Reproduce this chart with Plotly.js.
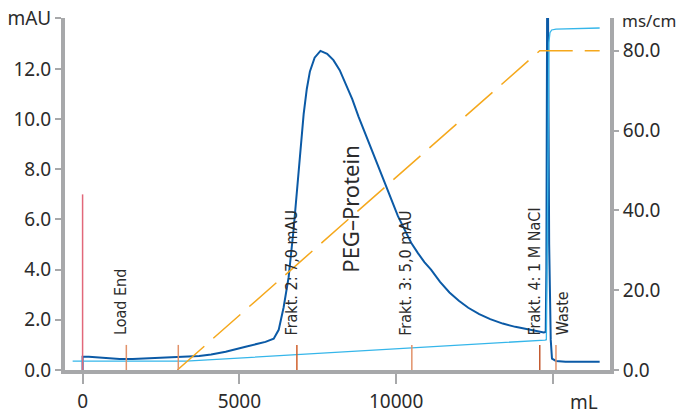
<!DOCTYPE html>
<html>
<head>
<meta charset="utf-8">
<script src="https://cdn.plot.ly/plotly-3.0.1.min.js"></script>
<style>html,body{margin:0;padding:0;background:#fff;}#chart{width:681px;height:414px;}</style>
</head>
<body>
<div id="chart"></div>
<script>
// UV absorbance (mL, mAU)
const uvVolume = [0, 0, 200, 500, 800, 1182, 1600, 2000, 2500, 2979, 3718, 4100, 4564, 5198, 5832, 6095, 6254, 6412, 6571, 6729, 6834, 6941, 7050, 7150, 7250, 7400, 7585, 7800, 8000, 8200, 8400, 8600, 8800, 9000, 9211, 9635, 10057, 10478, 10700, 10900, 11112, 11400, 11700, 12000, 12300, 12650, 13000, 13400, 13800, 14200, 14500, 14707, 14770, 14790, 14815, 14843, 14880, 14930, 14970, 15100, 15400, 16000, 16490];
const uvMAU    = [0, 0.53, 0.53, 0.5, 0.47, 0.44, 0.44, 0.46, 0.5, 0.53, 0.56, 0.62, 0.73, 0.93, 1.12, 1.25, 1.6, 2.5, 3.7, 5.6, 7.2, 8.8, 10.2, 11.2, 11.9, 12.45, 12.72, 12.6, 12.35, 11.95, 11.4, 10.8, 10.1, 9.45, 8.8, 7.47, 6.13, 5.07, 4.65, 4.3, 4.0, 3.51, 3.09, 2.76, 2.48, 2.23, 2.03, 1.85, 1.72, 1.62, 1.56, 1.5, 1.52, 4.0, 14.5, 14.5, 5.0, 1.2, 0.45, 0.36, 0.33, 0.32, 0.33];

// Conductivity (mL, ms/cm)
const condVolume = [-317, 3296, 14748, 14790, 14820, 14845, 14870, 14905, 14960, 15100, 16000, 16490];
const condMScm   = [2.2, 2.2, 7.5, 7.6, 30, 70, 82, 84.5, 85.2, 85.4, 85.6, 85.7];

// Gradient (mL, ms/cm scale)
const gradVolume = [3020, 14580, 16490];
const gradValue  = [0, 80, 80];

// Fraction / event marks
const markVolume = [1395, 3052, 6834, 10500, 14580, 15097];
const markHeight = [1.0, 1.0, 1.0, 1.0, 1.0, 1.0];
const markColors = ['#e2926a', '#e2926a', '#d0602c', '#e2926a', '#c45a30', '#e2926a'];
const injectVolume = 0;
const injectHeight = 7.0;

// Labels
const labelText   = ['Load End', 'Frakt. 2: 7,0 mAU', 'Frakt. 3: 5,0 mAU', 'Frakt. 4: 1 M NaCl', 'Waste'];
const labelVolume = [1214, 6666, 10310, 14400, 15287];
const peakLabel = 'PEG–Protein';
const peakVolume = 8536;
const peakMAU = 6.4;

const leftTicks = [0, 2, 4, 6, 8, 10, 12, 14.03];
const leftTickText = ['0.0', '2.0', '4.0', '6.0', '8.0', '10.0', '12.0', 'mAU'];
const rightTicks = [0, 20, 40, 60, 80];
const rightTickText = ['0.0', '20.0', '40.0', '60.0', '80.0'];
const xTicks = [0, 5000, 10000, 15000];
const xTickText = ['0', '5000', '10000', ''];

const axisGray = '#a7a8aa';
const textCol = '#2b2b2b';
const tickFont = {family: 'Noto Sans, sans-serif', size: 19, color: textCol};

// plot area in pixels: x 65..610, y 18..370
const pw = 545, ph = 352;

const traces = [
  {x: condVolume, y: condMScm, yaxis: 'y2', type: 'scatter', mode: 'lines',
   line: {color: '#35b6ea', width: 1.3}, hoverinfo: 'skip'},
  {x: gradVolume, y: gradValue, yaxis: 'y2', type: 'scatter', mode: 'lines',
   line: {color: '#f5a81c', width: 1.5, dash: '36px,12px'}, hoverinfo: 'skip'},
  {x: uvVolume, y: uvMAU, type: 'scatter', mode: 'lines',
   line: {color: '#0b5aa6', width: 2}, hoverinfo: 'skip'}
];

const shapes = markVolume.map((v, i) => ({
  type: 'line', xref: 'x', yref: 'y', x0: v, x1: v, y0: 0, y1: markHeight[i],
  line: {color: markColors[i], width: 1.5}
}));
shapes.push({type: 'line', xref: 'x', yref: 'y', x0: injectVolume, x1: injectVolume, y0: 0, y1: injectHeight,
  line: {color: '#e2687a', width: 1.5}});

const annotations = labelText.map((t, i) => ({
  text: t, x: labelVolume[i], y: 1.3, xref: 'x', yref: 'y', xanchor: 'center', yanchor: 'bottom',
  textangle: -90, showarrow: false,
  font: {family: 'DejaVu Sans Condensed, DejaVu Sans, sans-serif', size: 16, color: textCol}
}));
annotations.push({text: peakLabel, x: peakVolume, y: peakMAU, xref: 'x', yref: 'y',
  xanchor: 'center', yanchor: 'middle', textangle: -90, showarrow: false,
  font: {family: 'Noto Sans, sans-serif', size: 22, color: textCol}});
annotations.push({text: 'ms/cm', x: (620 - 65) / pw, y: (370 - 20) / ph, xref: 'paper', yref: 'paper',
  xanchor: 'left', yanchor: 'middle', showarrow: false,
  font: {family: 'Noto Sans, sans-serif', size: 17, color: textCol}});
annotations.push({text: 'mL', x: (584 - 65) / pw, y: (370 - 402) / ph, xref: 'paper', yref: 'paper',
  xanchor: 'center', yanchor: 'middle', showarrow: false, font: tickFont});

const layout = {
  width: 681, height: 414,
  margin: {l: 65, r: 71, t: 18, b: 44, pad: 0},
  paper_bgcolor: '#ffffff', plot_bgcolor: '#ffffff',
  showlegend: false,
  xaxis: {range: [-561, 16820], tickvals: xTicks, ticktext: xTickText,
    ticks: 'outside', ticklen: 10, tickwidth: 2, tickcolor: axisGray,
    showline: true, linecolor: axisGray, linewidth: 4, showgrid: false, zeroline: false,
    tickfont: tickFont, ticklabelstandoff: 1},
  yaxis: {range: [0, 14.03], tickvals: leftTicks, ticktext: leftTickText,
    ticks: 'outside', ticklen: 6, tickwidth: 2, tickcolor: axisGray,
    showline: true, linecolor: axisGray, linewidth: 4, showgrid: false, zeroline: false,
    tickfont: tickFont},
  yaxis2: {range: [0, 88.2], overlaying: 'y', side: 'right', tickvals: rightTicks, ticktext: rightTickText,
    ticks: 'outside', ticklen: 5, tickwidth: 2, tickcolor: axisGray,
    showline: true, linecolor: axisGray, linewidth: 4, showgrid: false, zeroline: false,
    tickfont: tickFont},
  shapes: shapes,
  annotations: annotations
};

Plotly.newPlot('chart', traces, layout, {displayModeBar: false, staticPlot: true});
</script>
</body>
</html>
